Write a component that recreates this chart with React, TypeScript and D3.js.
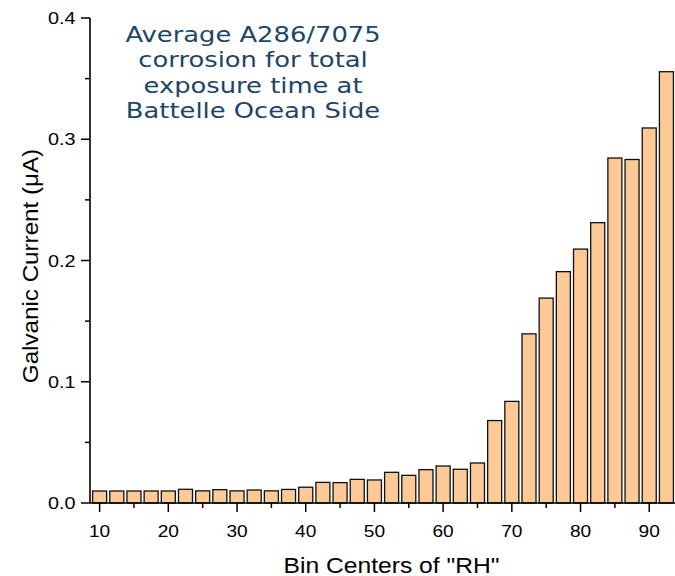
import React from "react";
import * as d3 from "d3";

const binCenters = [10, 12.5, 15, 17.5, 20, 22.5, 25, 27.5, 30, 32.5, 35, 37.5, 40, 42.5, 45, 47.5, 50, 52.5, 55, 57.5, 60, 62.5, 65, 67.5, 70, 72.5, 75, 77.5, 80, 82.5, 85, 87.5, 90, 92.5];
const currents = [0.0099, 0.0099, 0.0099, 0.0099, 0.0099, 0.0113, 0.0100, 0.0110, 0.0100, 0.0107, 0.0100, 0.0112, 0.0130, 0.0170, 0.0168, 0.0195, 0.0190, 0.0253, 0.0228, 0.0275, 0.0305, 0.0278, 0.0330, 0.0680, 0.0838, 0.1395, 0.1690, 0.1908, 0.2094, 0.2312, 0.2845, 0.2833, 0.3093, 0.3557];
const xTicks = [10, 20, 30, 40, 50, 60, 70, 80, 90];
const xMinorTicks = [15, 25, 35, 45, 55, 65, 75, 85];
const yTicks = [0, 0.1, 0.2, 0.3, 0.4];
const yMinorTicks = [0.05, 0.15, 0.25, 0.35];
const titleLines = ["Average A286/7075", "corrosion for total", "exposure time at", "Battelle Ocean Side"];

const W = 675;
const H = 576;

export default function App() {
  const x = d3.scaleLinear().domain([8.6, 93.75]).range([90, 675]);
  const y = d3.scaleLinear().domain([0, 0.4]).range([503, 18]);
  const barW = x(2.04) - x(0);
  const axisFont = "'Liberation Sans', Arial, sans-serif";
  return (
    <svg width={W} height={H} style={{ position: "absolute", left: 0, top: 0, background: "#fff" }}>
      <rect x={0} y={0} width={W} height={H} fill="#fff" />
      {binCenters.map((c, i) => (
        <rect key={c} x={x(c) - barW / 2} y={y(currents[i])} width={barW} height={y(0) - y(currents[i])}
          fill="#FDC997" stroke="#111" strokeWidth={1.3} />
      ))}
      {/* axes */}
      <line x1={90} x2={675} y1={y(0)} y2={y(0)} stroke="#000" strokeWidth={1.6} />
      <line x1={90} x2={90} y1={y(0.4)} y2={y(0)} stroke="#000" strokeWidth={1.6} />
      {xTicks.map(t => (
        <g key={t}>
          <line x1={x(t)} x2={x(t)} y1={y(0)} y2={y(0) + 9} stroke="#000" strokeWidth={1.5} />
          <text transform={`translate(${x(t)},536.5) scale(1.16,1)`} textAnchor="middle" fontSize={16.5} fontFamily={axisFont} fill="#000">{t}</text>
        </g>
      ))}
      {xMinorTicks.map(t => (
        <line key={t} x1={x(t)} x2={x(t)} y1={y(0)} y2={y(0) + 5} stroke="#000" strokeWidth={1.5} />
      ))}
      {yTicks.map(t => (
        <g key={t}>
          <line x1={81} x2={90} y1={y(t)} y2={y(t)} stroke="#000" strokeWidth={1.5} />
          <text transform={`translate(75.5,${y(t) + 6}) scale(1.2,1)`} textAnchor="end" fontSize={16.5} fontFamily={axisFont} fill="#000">{d3.format(".1f")(t)}</text>
        </g>
      ))}
      {yMinorTicks.map(t => (
        <line key={t} x1={85} x2={90} y1={y(t)} y2={y(t)} stroke="#000" strokeWidth={1.5} />
      ))}
      <text transform="translate(38,266) rotate(-90) scale(1.1,1)" textAnchor="middle" fontSize={22} fontFamily={axisFont} fill="#000">Galvanic Current (μA)</text>
      <text transform="translate(391.5,572.5) scale(1.12,1)" textAnchor="middle" fontSize={22} fontFamily={axisFont} fill="#000">Bin Centers of "RH"</text>
      {titleLines.map((l, i) => (
        <text key={i} transform={`translate(253,${41.7 + i * 25.5}) scale(1.2,1)`} textAnchor="middle" fontSize={21.5} fontFamily="'DejaVu Sans', sans-serif" fill="#1c4668">{l}</text>
      ))}
    </svg>
  );
}
